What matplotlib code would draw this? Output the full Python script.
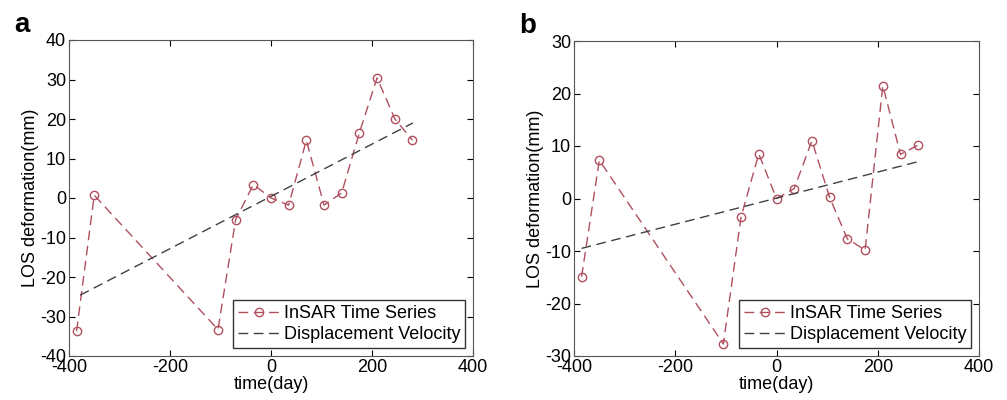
import matplotlib
matplotlib.use('Agg')
import matplotlib.pyplot as plt

plt.rcParams['font.family'] = ['Liberation Sans', 'DejaVu Sans']
plt.rcParams['axes.unicode_minus'] = False

days = [-385, -350, -105, -70, -35, 0, 35, 70, 105, 140, 175, 210, 245, 280]

losA = [-33.7, 0.7, -33.3, -5.5, 3.4, 0.0, -1.8, 14.6, -1.8, 1.3, 16.5, 30.4, 20.1, 14.6]
trendDaysA = [-378, 281]
trendA = [-24.6, 19.0]

losB = [-14.9, 7.3, -27.7, -3.5, 8.5, 0.0, 1.9, 11.0, 0.2, -7.7, -9.8, 21.5, 8.4, 10.2]
trendDaysB = [-385, 279]
trendB = [-9.5, 7.0]

INSAR_COLOR = '#b0505e'
TREND_COLOR = '#404040'
FS = 13

def panel(ax, los, trendDays, trend, ylim, yticks, letter):
  ax.plot(days, los, '--o', color=INSAR_COLOR, lw=1.0, markersize=6,
          markerfacecolor='none', markeredgewidth=1.0, dashes=(7, 4),
          label='InSAR Time Series')
  ax.plot(trendDays, trend, '--', color=TREND_COLOR, lw=1.0, dashes=(7, 4),
          label='Displacement Velocity')
  ax.set_xlim(-400, 400)
  ax.set_ylim(*ylim)
  ax.set_xticks([-400, -200, 0, 200, 400])
  ax.set_yticks(yticks)
  ax.tick_params(direction='in', top=True, right=True, labelsize=FS, length=4, pad=2)
  ax.set_xlabel('time(day)', fontsize=FS, labelpad=0)
  ax.set_ylabel('LOS deformation(mm)', fontsize=FS, labelpad=1)
  for s in ax.spines.values():
    s.set_color('#555555')
  leg = ax.legend(loc='lower right', fontsize=FS, fancybox=False, framealpha=1,
                  borderaxespad=0.45, handlelength=2.3, borderpad=0.25,
                  labelspacing=0.25, handletextpad=0.25)
  leg.get_frame().set_edgecolor('#333333')
  leg.get_frame().set_linewidth(1.0)
  ax.text(-0.135, 1.09, letter, transform=ax.transAxes, fontsize=20,
          fontweight='bold', va='top', ha='left')

fig = plt.figure(figsize=(10.07, 4.0), dpi=100)
axA = fig.add_axes([69/1007, 44/400, 404/1007, 316/400])
axB = fig.add_axes([574/1007, 44/400, 405/1007, 315/400])

panel(axA, losA, trendDaysA, trendA, (-40, 40), range(-40, 41, 10), 'a')
panel(axB, losB, trendDaysB, trendB, (-30, 30), range(-30, 31, 10), 'b')

fig.savefig('out.png', dpi=100)
